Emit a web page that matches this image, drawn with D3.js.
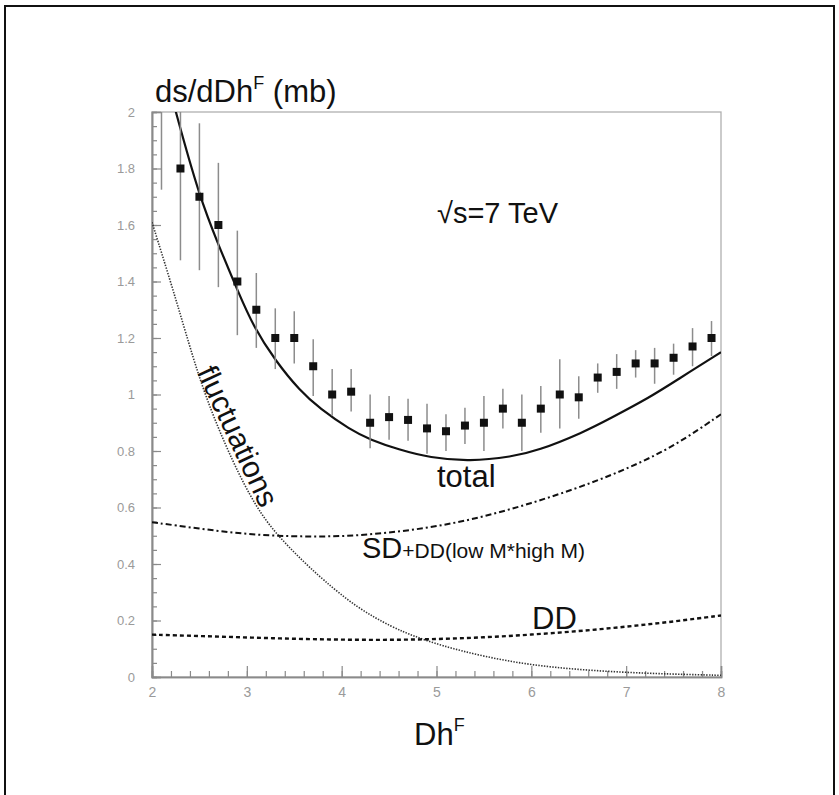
<!DOCTYPE html>
<html><head><meta charset="utf-8">
<script src="https://cdn.jsdelivr.net/npm/d3@7"></script>
<style>
body{margin:0;background:#fff}
svg{display:block}
text{font-family:"Liberation Sans",Arial,Helvetica,sans-serif}
</style>
</head><body>
<svg id="chart" width="839" height="795"></svg>
<script>
// ---- data ----
const pointX   = [2.1, 2.3, 2.5, 2.7, 2.9, 3.1, 3.3, 3.5, 3.7, 3.9, 4.1, 4.3, 4.5, 4.7, 4.9, 5.1, 5.3, 5.5, 5.7, 5.9, 6.1, 6.3, 6.5, 6.7, 6.9, 7.1, 7.3, 7.5, 7.7, 7.9];
const pointY   = [2.06, 1.80, 1.70, 1.60, 1.40, 1.30, 1.20, 1.20, 1.10, 1.00, 1.01, 0.90, 0.92, 0.91, 0.88, 0.87, 0.89, 0.90, 0.95, 0.90, 0.95, 1.00, 0.99, 1.06, 1.08, 1.11, 1.11, 1.13, 1.17, 1.20];
const errLow   = [1.725, 1.475, 1.44, 1.38, 1.21, 1.165, 1.09, 1.11, 0.995, 0.925, 0.94, 0.81, 0.84, 0.836, 0.79, 0.80, 0.825, 0.80, 0.88, 0.80, 0.865, 0.88, 0.914, 1.006, 1.02, 1.06, 1.038, 1.07, 1.10, 1.136];
const errHigh  = [2.40, 2.10, 1.96, 1.82, 1.58, 1.43, 1.305, 1.295, 1.196, 1.09, 1.09, 1.00, 0.995, 0.985, 0.967, 0.93, 0.953, 0.995, 1.02, 1.00, 1.03, 1.125, 1.065, 1.11, 1.143, 1.157, 1.165, 1.18, 1.235, 1.26];

const totalX = [2.15, 2.25, 2.5, 2.7, 2.9, 3.07, 3.3, 3.56, 3.77, 4.09, 4.3, 4.6, 4.93, 5.35, 5.8, 6.06, 6.55, 6.83, 7.25, 7.53, 8];
const totalY = [2.13, 2.0, 1.70, 1.53, 1.37, 1.24, 1.12, 1.013, 0.95, 0.875, 0.84, 0.805, 0.776, 0.763, 0.78, 0.80, 0.866, 0.915, 0.99, 1.05, 1.15];

const fluctX = [2, 2.2, 2.35, 2.55, 2.85, 3.1, 3.3, 3.56, 3.8, 4.16, 4.54, 4.76, 5.04, 5.5, 6, 6.5, 7, 7.5, 8];
const fluctY = [1.61, 1.395, 1.225, 1.0, 0.76, 0.60, 0.51, 0.42, 0.345, 0.245, 0.175, 0.145, 0.112, 0.072, 0.042, 0.026, 0.016, 0.01, 0.006];

const sdddX = [2, 2.5, 3, 3.5, 4, 4.5, 5, 5.5, 6, 6.5, 7, 7.5, 8];
const sdddY = [0.548, 0.525, 0.505, 0.497, 0.497, 0.51, 0.532, 0.567, 0.615, 0.67, 0.735, 0.815, 0.93];

const ddX = [2, 2.5, 3, 3.5, 4, 4.5, 5, 5.5, 6, 6.5, 7, 7.5, 8];
const ddY = [0.15, 0.145, 0.14, 0.135, 0.132, 0.131, 0.134, 0.14, 0.15, 0.162, 0.178, 0.196, 0.218];

const xTicks = [2, 3, 4, 5, 6, 7, 8];
const yTicks = [0, 0.2, 0.4, 0.6, 0.8, 1, 1.2, 1.4, 1.6, 1.8, 2];
const yTickLabels = ["0", "0.2", "0.4", "0.6", "0.8", "1", "1.2", "1.4", "1.6", "1.8", "2"];

// ---- layout ----
const L = 152, R = 721, T = 112, B = 677;
const svg = d3.select("#chart");
const x = d3.scaleLinear().domain([2, 8]).range([L, R]);
const y = d3.scaleLinear().domain([0, 2]).range([B, T]);

// outer border
svg.append("rect").attr("x", 5).attr("y", 6).attr("width", 829).attr("height", 800)
  .attr("fill", "none").attr("stroke", "#111").attr("stroke-width", 2);

svg.append("defs").append("clipPath").attr("id", "clip")
  .append("rect").attr("x", L).attr("y", T).attr("width", R - L).attr("height", B - T);

const frameColor = "#8a8a8a";
svg.append("rect").attr("x", L).attr("y", T).attr("width", R - L).attr("height", B - T)
  .attr("fill", "none").attr("stroke", "#b0b0b0").attr("stroke-width", 1.3);

const xMinor = d3.range(2, 8.0001, 0.2).map(v => +v.toFixed(2));
const yMinor = d3.range(0, 2.0001, 0.05).map(v => +v.toFixed(2));

const gx = svg.append("g").attr("transform", `translate(0,${B})`);
gx.call(d3.axisTop(x).tickValues(xMinor).tickSize(6).tickFormat(""));
gx.append("g").call(d3.axisTop(x).tickValues(xTicks).tickSize(11).tickFormat(""));
gx.selectAll(".domain").attr("stroke", frameColor).attr("stroke-width", 1.6);
gx.selectAll(".tick line").attr("stroke", frameColor).attr("stroke-width", 1.2);

const gxl = svg.append("g").attr("transform", `translate(0,${B})`)
  .call(d3.axisBottom(x).tickValues(xTicks).tickSize(0).tickPadding(10).tickFormat(d3.format("d")));
gxl.select(".domain").remove();
gxl.selectAll("text").attr("font-size", 14).attr("fill", "#9a9a9a")
  .attr("font-family", '"Liberation Sans",Arial,sans-serif');

const gy = svg.append("g").attr("transform", `translate(${L},0)`);
gy.call(d3.axisRight(y).tickValues(yMinor).tickSize(5).tickFormat(""));
gy.append("g").call(d3.axisRight(y).tickValues(yTicks).tickSize(9).tickFormat(""));
gy.selectAll(".domain").attr("stroke", frameColor).attr("stroke-width", 1.6);
gy.selectAll(".tick line").attr("stroke", frameColor).attr("stroke-width", 1.2);

const gyl = svg.append("g").attr("transform", `translate(${L},0)`)
  .call(d3.axisLeft(y).tickValues(yTicks).tickSize(0).tickPadding(17).tickFormat((d, i) => yTickLabels[i]));
gyl.select(".domain").remove();
gyl.selectAll("text").attr("font-size", 13).attr("fill", "#9a9a9a")
  .attr("font-family", '"Liberation Sans",Arial,sans-serif');

// plot content
const plot = svg.append("g").attr("clip-path", "url(#clip)");
const line = d3.line().x(d => x(d[0])).y(d => y(d[1])).curve(d3.curveBasis);

plot.append("path").datum(d3.zip(fluctX, fluctY)).attr("d", line)
  .attr("fill", "none").attr("stroke", "#333").attr("stroke-width", 1.6)
  .attr("stroke-dasharray", "1.4,1.4");
plot.append("path").datum(d3.zip(sdddX, sdddY)).attr("d", line)
  .attr("fill", "none").attr("stroke", "#111").attr("stroke-width", 2)
  .attr("stroke-dasharray", "6,3,2,3");
plot.append("path").datum(d3.zip(ddX, ddY)).attr("d", line)
  .attr("fill", "none").attr("stroke", "#111").attr("stroke-width", 2.4)
  .attr("stroke-dasharray", "4,3");
plot.append("path").datum(d3.zip(totalX, totalY)).attr("d", line)
  .attr("fill", "none").attr("stroke", "#111").attr("stroke-width", 2.2);

const pts = pointX.map((px, i) => ({x: px, y: pointY[i], lo: errLow[i], hi: errHigh[i]}));
plot.selectAll("line.err").data(pts).join("line").attr("class", "err")
  .attr("x1", d => x(d.x)).attr("x2", d => x(d.x))
  .attr("y1", d => y(d.lo)).attr("y2", d => y(d.hi))
  .attr("stroke", "#8c8c8c").attr("stroke-width", 1.5);
plot.selectAll("rect.pt").data(pts).join("rect").attr("class", "pt")
  .attr("x", d => x(d.x) - 4).attr("y", d => y(d.y) - 4)
  .attr("width", 8).attr("height", 8).attr("fill", "#111");

// texts
const yt = svg.append("text").attr("x", 155).attr("y", 102).attr("font-size", 31).attr("fill", "#111");
yt.append("tspan").text("ds/dDh");
yt.append("tspan").attr("font-size", 18).attr("dy", -13).text("F");
yt.append("tspan").attr("dy", 13).text(" (mb)");

const xt = svg.append("text").attr("x", 414).attr("y", 745).attr("font-size", 31).attr("fill", "#111");
xt.append("tspan").text("Dh");
xt.append("tspan").attr("font-size", 18).attr("dy", -14).text("F");

svg.append("text").attr("x", 437).attr("y", 223).attr("font-size", 29).attr("fill", "#111").text("√s=7 TeV");
svg.append("text").attr("x", 437).attr("y", 487).attr("font-size", 31).attr("fill", "#111").text("total");

const sd = svg.append("text").attr("x", 362).attr("y", 558).attr("fill", "#111");
sd.append("tspan").attr("font-size", 29).text("SD");
sd.append("tspan").attr("font-size", 21).text("+DD(low M*high M)");

svg.append("text").attr("x", 532).attr("y", 629).attr("font-size", 31).attr("fill", "#111").text("DD");

svg.append("text").attr("transform", "translate(238,436) rotate(65)")
  .attr("text-anchor", "middle").attr("dominant-baseline", "central")
  .attr("font-size", 30).attr("fill", "#111").text("fluctuations");
</script>
</body></html>
